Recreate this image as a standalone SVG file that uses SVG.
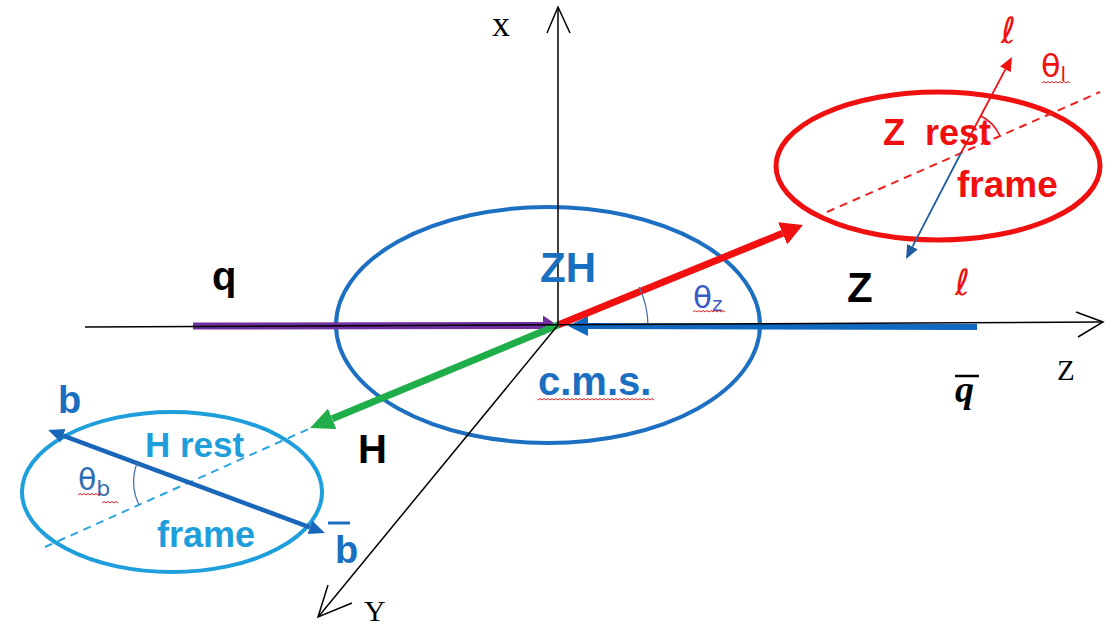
<svg xmlns="http://www.w3.org/2000/svg" width="1119" height="627" viewBox="0 0 1119 627">
<style>
.ax{stroke:#000;stroke-width:1.5;fill:none}
.lab{font-family:"Liberation Sans","DejaVu Sans",sans-serif;font-weight:bold}
.sym{font-family:"DejaVu Sans","Liberation Sans",sans-serif}
.ser{font-family:"Liberation Serif","DejaVu Serif",serif}
.wavy{fill:none;stroke:#e02020;stroke-width:1}
.dash{fill:none;stroke-width:2;stroke-dasharray:8 6}
</style>
<defs>
<marker id="ahRed" markerUnits="userSpaceOnUse" markerWidth="22" markerHeight="24" viewBox="0 0 22 24" refX="0" refY="12" orient="auto"><path d="M0,0 L22,12 L0,24 z" fill="#f01010"/></marker>
<marker id="ahGreen" markerUnits="userSpaceOnUse" markerWidth="24" markerHeight="22" viewBox="0 0 24 22" refX="0" refY="11" orient="auto"><path d="M0,0 L24,11 L0,22 z" fill="#1fae4a"/></marker>
<marker id="ahPurple" markerUnits="userSpaceOnUse" markerWidth="15" markerHeight="20" viewBox="0 0 15 20" refX="0" refY="10" orient="auto"><path d="M0,0 L15,10 L0,20 z" fill="#7030a0"/></marker>
<marker id="ahBlue" markerUnits="userSpaceOnUse" markerWidth="20" markerHeight="20" viewBox="0 0 20 20" refX="0" refY="10" orient="auto"><path d="M0,0 L20,10 L0,20 z" fill="#1068c0"/></marker>
<marker id="ahLepR" markerUnits="userSpaceOnUse" markerWidth="14" markerHeight="12" viewBox="0 0 14 12" refX="0" refY="6" orient="auto"><path d="M0,0 L14,6 L0,12 z" fill="#f01010"/></marker>
<marker id="ahLepB" markerUnits="userSpaceOnUse" markerWidth="14" markerHeight="12" viewBox="0 0 14 12" refX="0" refY="6" orient="auto"><path d="M0,0 L14,6 L0,12 z" fill="#1f5f9f"/></marker>
<marker id="ahB" markerUnits="userSpaceOnUse" markerWidth="16" markerHeight="14" viewBox="0 0 16 14" refX="0" refY="7" orient="auto-start-reverse"><path d="M0,0 L16,7 L0,14 z" fill="#1a66b8"/></marker>
</defs>
<rect width="1119" height="627" fill="#fff"/>

<g id="frames">
<g id="cms-frame"><ellipse cx="548" cy="325" rx="212" ry="118" fill="none" stroke="#1c6fc1" stroke-width="4"/></g>
<g id="z-rest-frame"><ellipse cx="938" cy="166" rx="162" ry="74" fill="none" stroke="#f01010" stroke-width="5"/></g>
<g id="h-rest-frame"><ellipse cx="172" cy="492" rx="150" ry="80" fill="none" stroke="#1e9fdc" stroke-width="4"/></g>
</g>

<g id="connectors">
<line x1="827" y1="212" x2="1100" y2="92" class="dash" stroke="#f02020"/>
<line x1="45" y1="547" x2="313" y2="427" class="dash" stroke="#2aa5e0"/>
<line x1="193" y1="326" x2="543" y2="325.5" stroke="#7030a0" stroke-width="7" marker-end="url(#ahPurple)"/>
<line x1="977" y1="327" x2="588" y2="326" stroke="#1068c0" stroke-width="6" marker-end="url(#ahBlue)"/>
<line x1="558" y1="325" x2="782.6" y2="233.3" stroke="#f01010" stroke-width="7" marker-end="url(#ahRed)"/>
<line x1="558" y1="325" x2="332.2" y2="418.8" stroke="#1fae4a" stroke-width="7" marker-end="url(#ahGreen)"/>
<line x1="961" y1="153" x2="1005.4" y2="69.4" stroke="#f01010" stroke-width="1.8" marker-end="url(#ahLepR)"/>
<line x1="961" y1="153" x2="912.5" y2="246.6" stroke="#1f5f9f" stroke-width="1.8" marker-end="url(#ahLepB)"/>
<line x1="63" y1="435.6" x2="310" y2="527.4" stroke="#1a66b8" stroke-width="4.5" marker-start="url(#ahB)" marker-end="url(#ahB)"/>
<path d="M648,325 A90,90 0 0 0 639,287" fill="none" stroke="#4a72b0" stroke-width="1.3"/>
<path d="M981,116 A42,42 0 0 1 1000,136" fill="none" stroke="#f01010" stroke-width="1.5"/>
<path d="M137,463 A55,55 0 0 0 139,505" fill="none" stroke="#4a72b0" stroke-width="1.3"/>
</g>

<g id="axes">
<line x1="558" y1="325" x2="558" y2="8" class="ax"/>
<polyline points="547,33 558,7 570,33" class="ax"/>
<line x1="85" y1="327" x2="1102" y2="322" class="ax"/>
<polyline points="1076,312 1103,322 1078,337" class="ax"/>
<line x1="558" y1="325" x2="319" y2="616" class="ax"/>
<polyline points="328,585 318,617 352,603" class="ax"/>
<text x="492" y="36" class="ser" font-size="36" fill="#000">x</text>
<text x="1057" y="380" class="ser" font-size="29" fill="#000">Z</text>
<text x="364" y="621" class="ser" font-size="30" fill="#000">Y</text>
</g>

<g id="labels">
<text x="212" y="290" class="lab" font-size="40" fill="#000">q</text>
<text x="847" y="302" class="lab" font-size="42" fill="#000">Z</text>
<text x="358" y="463" class="lab" font-size="40" fill="#000">H</text>
<text x="540" y="282" class="lab" font-size="42" fill="#1a6fc0">ZH</text>
<text x="538" y="395" class="lab" font-size="40" fill="#1a6fc0">c.m.s.</text>
<path class="wavy" d="M538,400 l2,-1.5 2,1.5 2,-1.5 2,1.5 2,-1.5 2,1.5 2,-1.5 2,1.5 2,-1.5 2,1.5 2,-1.5 2,1.5 2,-1.5 2,1.5 2,-1.5 2,1.5 2,-1.5 2,1.5 2,-1.5 2,1.5 2,-1.5 2,1.5 2,-1.5 2,1.5 2,-1.5 2,1.5 2,-1.5 2,1.5 2,-1.5 2,1.5 2,-1.5 2,1.5 2,-1.5 2,1.5 2,-1.5 2,1.5 2,-1.5 2,1.5 2,-1.5 2,1.5 2,-1.5 2,1.5 2,-1.5 2,1.5 2,-1.5 2,1.5 2,-1.5 2,1.5 2,-1.5 2,1.5 2,-1.5 2,1.5 2,-1.5 2,1.5 2,-1.5 2,1.5 2,-1.5 2,1.5"/>
<text x="693" y="308" class="sym" font-size="31" fill="#3a5bc7">θ<tspan font-size="20" dy="3">z</tspan></text>
<path class="wavy" d="M693,312 l2,-1.5 2,1.5 2,-1.5 2,1.5 2,-1.5 2,1.5 2,-1.5 2,1.5 2,-1.5 2,1.5 2,-1.5 2,1.5 2,-1.5 2,1.5 2,-1.5 2,1.5"/>
<text x="955" y="402" class="ser" font-size="38" font-weight="bold" font-style="italic" fill="#000">q</text>
<line x1="955" y1="376" x2="979" y2="376" stroke="#000" stroke-width="2.5"/>
<text x="883" y="145" class="lab" font-size="36" fill="#f01010" xml:space="preserve">Z  rest</text>
<text x="957" y="197" class="lab" font-size="37" fill="#f01010">frame</text>
<text x="1001" y="43" class="sym" font-size="36" fill="#f01010">ℓ</text>
<text x="955" y="295" class="sym" font-size="36" fill="#f01010">ℓ</text>
<text x="1041" y="77" class="sym" font-size="32" fill="#f01010">θ<tspan font-size="20" dy="4">l</tspan></text>
<path class="wavy" d="M1042,83 l2,-1.5 2,1.5 2,-1.5 2,1.5 2,-1.5 2,1.5 2,-1.5 2,1.5 2,-1.5 2,1.5 2,-1.5 2,1.5 2,-1.5 2,1.5"/>
<text x="145" y="457" class="lab" font-size="35" fill="#1e9fdc">H rest</text>
<text x="157" y="547" class="lab" font-size="36" fill="#1e9fdc">frame</text>
<text x="58" y="413" class="lab" font-size="38" fill="#1a6fc0">b</text>
<text x="335" y="563" class="lab" font-size="38" fill="#1a6fc0">b</text>
<line x1="328" y1="523" x2="350" y2="523" stroke="#1a6fc0" stroke-width="3"/>
<text x="78" y="490" class="sym" font-size="30" fill="#2f6db5">θ<tspan font-size="22" dy="6">b</tspan></text>
<path class="wavy" d="M78,495 l2,-1.5 2,1.5 2,-1.5 2,1.5 2,-1.5 2,1.5 2,-1.5 2,1.5 2,-1.5 2,1.5 2,-1.5 2,1.5 M102,503 l2,-1.5 2,1.5 2,-1.5 2,1.5 2,-1.5 2,1.5 2,-1.5 2,1.5"/>
</g>
</svg>
